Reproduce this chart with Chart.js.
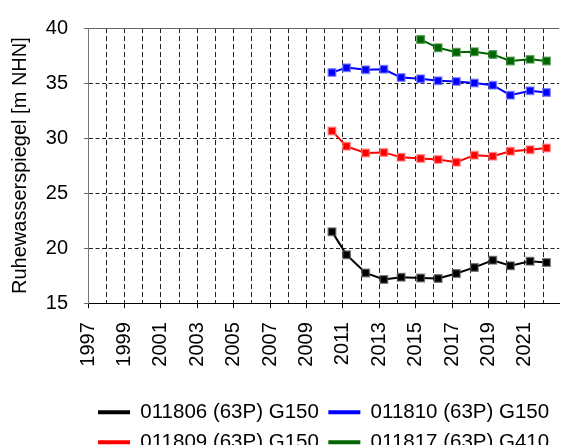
<!DOCTYPE html>
<html>
<head>
<meta charset="utf-8">
<script src="https://cdn.jsdelivr.net/npm/chart.js@4/dist/chart.umd.min.js"></script>
<style>
  html, body { margin: 0; padding: 0; background: #fff; }
  canvas { display: block; }
</style>
</head>
<body>
<canvas id="chart" width="566" height="445"></canvas>
<script>
// Sampling dates (decimal years) shared by all wells
const dates = [2010.4, 2011.2, 2012.25, 2013.25, 2014.2, 2015.27, 2016.23, 2017.23, 2018.22, 2019.23, 2020.2, 2021.28, 2022.18];

// Groundwater levels [m NHN]
const well011806 = [21.5, 19.4, 17.75, 17.15, 17.35, 17.3, 17.25, 17.7, 18.25, 18.9, 18.4, 18.8, 18.7];
const well011810 = [35.95, 36.4, 36.2, 36.25, 35.5, 35.4, 35.2, 35.15, 35.0, 34.8, 33.9, 34.3, 34.15];
const well011809 = [30.65, 29.25, 28.65, 28.7, 28.25, 28.15, 28.05, 27.8, 28.45, 28.35, 28.8, 28.95, 29.1];
const well011817 = [null, null, null, null, null, 38.95, 38.2, 37.8, 37.85, 37.6, 37.0, 37.15, 37.0];

const seriesLabels = ['011806 (63P) G150', '011810 (63P) G150', '011809 (63P) G150', '011817 (63P) G410'];
const seriesColors = ['#000000', '#0000ff', '#ff0000', '#006400'];
const seriesHalo   = ['rgba(90,90,90,0.7)', 'rgba(110,110,255,0.7)', 'rgba(255,120,120,0.7)', 'rgba(60,140,60,0.7)'];
const seriesValues = [well011806, well011810, well011809, well011817];

const yearMin = 1997;
const yearMax = 2022.88;

function toPoints(values) {
  const pts = [];
  values.forEach((v, i) => { if (v !== null) pts.push({ x: dates[i], y: v }); });
  return pts;
}

Chart.defaults.font.family = "'Liberation Sans', Arial, sans-serif";
Chart.defaults.font.size = 20;
Chart.defaults.color = '#000';

const datasets = seriesLabels.map((label, i) => ({
  label: label,
  data: toPoints(seriesValues[i]),
  borderColor: seriesColors[i],
  backgroundColor: seriesColors[i],
  borderWidth: 2,
  tension: 0,
  pointStyle: 'rect',
  pointRadius: 5.3,
  pointBorderWidth: 1.5,
  pointBorderColor: seriesHalo[i],
  pointBackgroundColor: seriesColors[i]
}));

new Chart(document.getElementById('chart'), {
  type: 'line',
  data: { datasets: datasets },
  options: {
    responsive: false,
    animation: false,
    devicePixelRatio: 1,
    layout: { padding: { top: 15, right: 0, left: 0, bottom: -17.5 } },
    plugins: {
      tooltip: { enabled: false },
      legend: {
        position: 'bottom',
        fullSize: false,
        labels: {
          boxWidth: 32,
          boxHeight: 4,
          padding: 9.5,
          color: '#000',
          font: { size: 20.5 },
          generateLabels: (chart) =>
            Chart.defaults.plugins.legend.labels.generateLabels(chart).map(l => Object.assign(l, { lineWidth: 0 }))
        }
      }
    },
    scales: {
      x: {
        type: 'linear',
        min: yearMin,
        max: yearMax,
        afterFit: (scale) => {
          scale.height = 89.3;
          scale.paddingLeft = 0;
          scale.paddingRight = 0;
        },
        ticks: {
          stepSize: 1,
          autoSkip: false,
          includeBounds: false,
          maxRotation: 90,
          minRotation: 90,
          padding: 14,
          color: '#000',
          font: { size: 20 },
          callback: (v) => (Number.isInteger(v) && v % 2 === 1) ? String(v) : ''
        },
        grid: {
          color: (ctx) => (ctx.tick && ctx.tick.value === yearMin) ? 'rgba(0,0,0,0)' : '#222',
          lineWidth: 1,
          tickLength: 5,
          tickColor: (ctx) => (ctx.tick && Number.isInteger(ctx.tick.value) && ctx.tick.value % 2 === 1) ? '#000' : 'rgba(0,0,0,0)'
        },
        border: { display: true, color: '#000', width: 1, dash: [5, 3] }
      },
      y: {
        min: 15,
        max: 40,
        afterFit: (scale) => { scale.width = 88; },
        ticks: {
          stepSize: 5,
          padding: 16,
          color: '#000',
          font: { size: 20 }
        },
        title: {
          display: true,
          text: 'Ruhewasserspiegel [m NHN]',
          color: '#000',
          font: { size: 20 },
          padding: { top: 8, bottom: 0 }
        },
        grid: {
          color: (ctx) => {
            if (!ctx.tick) return '#222';
            if (ctx.tick.value === 15) return 'rgba(0,0,0,0)';
            if (ctx.tick.value === 40) return '#666';
            return '#222';
          },
          lineWidth: 1,
          tickLength: 4,
          tickColor: '#666'
        },
        border: {
          display: true,
          color: '#777',
          width: 1,
          dash: (ctx) => (ctx.tick && ctx.tick.value === 40) ? [] : [4, 2.5]
        }
      }
    }
  }
});
</script>
</body>
</html>
